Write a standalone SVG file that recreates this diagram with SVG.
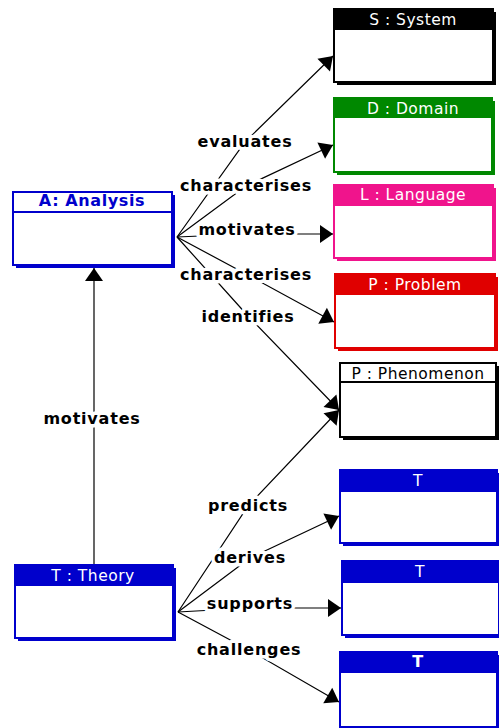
<svg xmlns="http://www.w3.org/2000/svg" width="499" height="728" viewBox="0 0 499 728">
  <defs>
    <style>
      .shadow { stroke: none; }
      .frame { fill: #fff; stroke-width: 2; }
      .title { font-family: "DejaVu Sans", "Liberation Sans", sans-serif; font-size: 15.5px; letter-spacing: 0.5px; text-anchor: middle; }
      .title.bold { font-weight: bold; font-size: 16px; letter-spacing: 0.6px; }
      .edge { fill: none; stroke: #000; stroke-width: 1.2; }
      .label { font-family: "DejaVu Sans", "Liberation Sans", sans-serif; font-weight: bold; font-size: 16px; letter-spacing: 0.8px; text-anchor: middle; fill: #000; stroke: #fff; stroke-width: 7; stroke-linejoin: round; paint-order: stroke; }
    </style>
    <marker id="arrow" viewBox="0 -10 15 20" refX="14" refY="0" markerWidth="15" markerHeight="20" markerUnits="userSpaceOnUse" orient="auto">
      <path d="M1,-9 L14,0 L1,9 Z" fill="#000"/>
    </marker>
  </defs>

  <!-- connectors -->
  <g id="connectors">
    <polyline class="edge" points="177,237 245,142 333,56" marker-end="url(#arrow)"/>
    <polyline class="edge" points="177,237 246,186 333,145" marker-end="url(#arrow)"/>
    <polyline class="edge" points="177,237 246,234 333,234" marker-end="url(#arrow)"/>
    <polyline class="edge" points="177,237 246,274 334,322" marker-end="url(#arrow)"/>
    <polyline class="edge" points="177,237 248,316 339,410" marker-end="url(#arrow)"/>
    <polyline class="edge" points="178,612 248,506 339,410" marker-end="url(#arrow)"/>
    <polyline class="edge" points="178,612 250,558 339,516" marker-end="url(#arrow)"/>
    <polyline class="edge" points="178,612 250,608 341,608" marker-end="url(#arrow)"/>
    <polyline class="edge" points="178,612 249,650 339,702" marker-end="url(#arrow)"/>
    <line class="edge" x1="94" y1="565" x2="94" y2="268" marker-end="url(#arrow)"/>

    <text class="label" x="245" y="147">evaluates</text>
    <text class="label" x="246" y="191">characterises</text>
    <text class="label" x="247" y="235">motivates</text>
    <text class="label" x="246" y="280">characterises</text>
    <text class="label" x="248" y="322">identifies</text>
    <text class="label" x="248" y="511">predicts</text>
    <text class="label" x="250" y="563">derives</text>
    <text class="label" x="250" y="609">supports</text>
    <text class="label" x="249" y="655">challenges</text>
    <text class="label" x="92" y="424">motivates</text>
  </g>

  <!-- S : System -->
  <g id="system">
    <rect class="shadow" x="337" y="12" width="159" height="73" fill="#000"/>
    <rect class="frame" x="334" y="9" width="159" height="73" stroke="#000"/>
    <rect x="334" y="9" width="159" height="21" fill="#000"/>
    <text class="title" x="413" y="25" fill="#fff">S : System</text>
  </g>

  <!-- D : Domain -->
  <g id="domain">
    <rect class="shadow" x="337" y="101" width="158" height="74" fill="#008800"/>
    <rect class="frame" x="334" y="98" width="158" height="74" stroke="#008800"/>
    <rect x="334" y="98" width="158" height="20" fill="#008800"/>
    <text class="title" x="413" y="114" fill="#fff">D : Domain</text>
  </g>

  <!-- L : Language -->
  <g id="language">
    <rect class="shadow" x="337" y="188" width="159" height="73" fill="#f0148c"/>
    <rect class="frame" x="334" y="185" width="159" height="73" stroke="#f0148c"/>
    <rect x="334" y="185" width="159" height="21" fill="#f0148c"/>
    <text class="title" x="413" y="200" fill="#fff">L : Language</text>
  </g>

  <!-- P : Problem -->
  <g id="problem">
    <rect class="shadow" x="338" y="277" width="160" height="74" fill="#e00000"/>
    <rect class="frame" x="335" y="274" width="160" height="74" stroke="#e00000"/>
    <rect x="335" y="274" width="160" height="21" fill="#e00000"/>
    <text class="title" x="415" y="290" fill="#fff">P : Problem</text>
  </g>

  <!-- P : Phenomenon -->
  <g id="phenomenon">
    <rect class="shadow" x="343" y="366" width="156" height="74" fill="#000"/>
    <rect class="frame" x="340" y="363" width="156" height="74" stroke="#000"/>
    <line x1="340" y1="382" x2="496" y2="382" stroke="#000" stroke-width="2"/>
    <text class="title" x="418" y="379" fill="#000">P : Phenomenon</text>
  </g>

  <!-- T (predicted / derived) -->
  <g id="theory-1">
    <rect class="shadow" x="343" y="473" width="157" height="73" fill="#0000cc"/>
    <rect class="frame" x="340" y="470" width="157" height="73" stroke="#0000cc"/>
    <rect x="340" y="470" width="157" height="22" fill="#0000cc"/>
    <text class="title" x="418" y="486" fill="#fff">T</text>
  </g>

  <!-- T (supported) -->
  <g id="theory-2">
    <rect class="shadow" x="345" y="564" width="157" height="74" fill="#0000cc"/>
    <rect class="frame" x="342" y="561" width="157" height="74" stroke="#0000cc"/>
    <rect x="342" y="561" width="157" height="22" fill="#0000cc"/>
    <text class="title" x="420" y="577" fill="#fff">T</text>
  </g>

  <!-- T (challenged) -->
  <g id="theory-3">
    <rect class="shadow" x="343" y="655" width="157" height="75" fill="#0000cc"/>
    <rect class="frame" x="340" y="652" width="157" height="75" stroke="#0000cc"/>
    <rect x="340" y="652" width="157" height="21" fill="#0000cc"/>
    <text class="title bold" x="418" y="667" fill="#fff">T</text>
  </g>

  <!-- A : Analysis -->
  <g id="analysis">
    <rect class="shadow" x="16" y="195" width="159" height="73" fill="#0000cc"/>
    <rect class="frame" x="13" y="192" width="159" height="73" stroke="#0000cc"/>
    <line x1="13" y1="212" x2="172" y2="212" stroke="#0000cc" stroke-width="2"/>
    <text class="title bold" x="92" y="206" fill="#0000cc">A: Analysis</text>
  </g>

  <!-- T : Theory -->
  <g id="theory">
    <rect class="shadow" x="18" y="568" width="158" height="73" fill="#0000cc"/>
    <rect class="frame" x="15" y="565" width="158" height="73" stroke="#0000cc"/>
    <rect x="15" y="565" width="158" height="21" fill="#0000cc"/>
    <text class="title" x="93" y="581" fill="#fff">T : Theory</text>
  </g>
</svg>
